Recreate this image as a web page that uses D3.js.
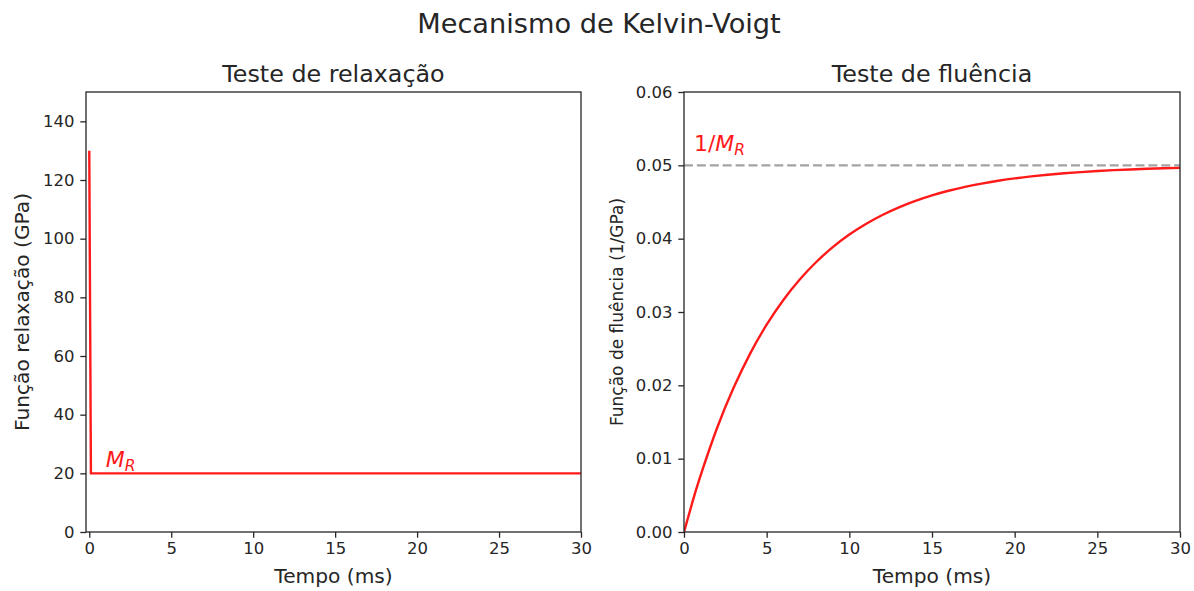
<!DOCTYPE html>
<html>
<head>
<meta charset="utf-8">
<script src="https://cdn.jsdelivr.net/npm/d3@7"></script>
<style>
  html, body { margin: 0; padding: 0; background: #ffffff; }
  svg { display: block; font-family: "DejaVu Sans", sans-serif; }
</style>
</head>
<body>
<svg id="chart" width="1194" height="591"></svg>
<script>
// Relaxation modulus of the Kelvin-Voigt model (GPa): a spike at t = 0, then M_R
const relaxTime = [0, 0.1, 30];
const relaxModulus = [130, 20, 20];

// Creep compliance (1/GPa) approaching 1/M_R
const creepTime = [0, 0.5, 1, 2, 3, 4, 5, 6, 7, 8, 9, 10, 11, 12, 13, 14, 15,
  16, 17, 18, 19, 20, 21, 22, 23, 24, 25, 26, 27, 28, 29, 30];
const creepCompliance = [0, 0.00400, 0.00768, 0.01418, 0.01967, 0.02433, 0.02827,
  0.03161, 0.03443, 0.03682, 0.03884, 0.04056, 0.04201, 0.04323, 0.04427,
  0.04515, 0.04590, 0.04653, 0.04706, 0.04751, 0.04789, 0.04822, 0.04849,
  0.04872, 0.04892, 0.04908, 0.04922, 0.04934, 0.04944, 0.04953, 0.04960, 0.04966];

const relaxedModulus = 20;          // M_R
const creepLimit = 0.05;            // 1/M_R

const timeTicks = [0, 5, 10, 15, 20, 25, 30];
const relaxTicks = [0, 20, 40, 60, 80, 100, 120, 140];
const creepTicks = [0, 0.01, 0.02, 0.03, 0.04, 0.05, 0.06];

const svg = d3.select("#chart");
const INK = "#262626";
const RED = "#ff1a1a";

svg.append("text")
  .attr("x", 599).attr("y", 33)
  .attr("text-anchor", "middle")
  .attr("font-size", 27.2).attr("fill", INK)
  .text("Mecanismo de Kelvin-Voigt");

function panel(opts) {
  const g = svg.append("g");
  const x = d3.scaleLinear().domain(opts.xDomain).range([opts.left, opts.right]);
  const y = d3.scaleLinear().domain(opts.yDomain).range([opts.bottom, opts.top]);

  // x axis
  const xa = g.append("g").attr("transform", `translate(0,${opts.bottom})`)
    .call(d3.axisBottom(x).tickValues(timeTicks).tickFormat(d3.format("d"))
      .tickSize(5.7).tickPadding(5));
  // y axis
  const ya = g.append("g").attr("transform", `translate(${opts.left},0)`)
    .call(d3.axisLeft(y).tickValues(opts.yTicks).tickFormat(opts.yFormat)
      .tickSize(5.7).tickPadding(5.7));
  [xa, ya].forEach(a => {
    a.select(".domain").remove();
    a.selectAll(".tick line").attr("stroke", INK).attr("stroke-width", 1.3);
    a.selectAll(".tick text").attr("fill", INK).attr("font-size", 16.5)
      .attr("font-family", "DejaVu Sans");
  });

  const clipId = "clip" + opts.id;
  g.append("clipPath").attr("id", clipId).append("rect")
    .attr("x", opts.left).attr("y", opts.top)
    .attr("width", opts.right - opts.left).attr("height", opts.bottom - opts.top);
  const plot = g.append("g").attr("clip-path", `url(#${clipId})`);
  opts.draw(plot, x, y);

  // frame
  g.append("rect")
    .attr("x", opts.left).attr("y", opts.top)
    .attr("width", opts.right - opts.left).attr("height", opts.bottom - opts.top)
    .attr("fill", "none").attr("stroke", INK).attr("stroke-width", 1.3);

  g.append("text")
    .attr("x", (opts.left + opts.right) / 2).attr("y", opts.top - 9.7)
    .attr("text-anchor", "middle").attr("font-size", 23.8).attr("fill", INK)
    .text(opts.title);
  g.append("text")
    .attr("x", (opts.left + opts.right) / 2).attr("y", 583)
    .attr("text-anchor", "middle").attr("font-size", 20.2).attr("fill", INK)
    .text("Tempo (ms)");
  g.append("text")
    .attr("transform", `translate(${opts.yLabelX},${(opts.top + opts.bottom) / 2}) rotate(-90)`)
    .attr("text-anchor", "middle").attr("font-size", opts.yLabelSize).attr("fill", INK)
    .text(opts.yLabel);

  opts.annotate(g, x, y);
}

// Left panel: relaxation test
panel({
  id: "relax", left: 86, right: 581, top: 92, bottom: 532,
  xDomain: [-0.2, 30], yDomain: [0, 150],
  yTicks: relaxTicks, yFormat: d3.format("d"),
  title: "Teste de relaxação",
  yLabel: "Função relaxação (GPa)", yLabelX: 29, yLabelSize: 20.2,
  draw: (plot, x, y) => {
    const pts = relaxTime.map((t, i) => [t, relaxModulus[i]]);
    plot.append("path").datum(pts)
      .attr("fill", "none").attr("stroke", RED).attr("stroke-width", 2.4)
      .attr("d", d3.line().x(d => x(d[0])).y(d => y(d[1])));
  },
  annotate: (g, x, y) => {
    const t = g.append("text")
      .attr("x", x(1)).attr("y", y(relaxedModulus + 2.2))
      .attr("fill", RED).attr("font-size", 22).attr("font-style", "italic");
    t.append("tspan").text("M");
    t.append("tspan").attr("font-size", 15.5).attr("dy", 4).text("R");
  }
});

// Right panel: creep test
panel({
  id: "creep", left: 684, right: 1180, top: 92, bottom: 532,
  xDomain: [0, 30], yDomain: [0, 0.06],
  yTicks: creepTicks, yFormat: d3.format(".2f"),
  title: "Teste de fluência",
  yLabel: "Função de fluência (1/GPa)", yLabelX: 623, yLabelSize: 17,
  draw: (plot, x, y) => {
    plot.append("line")
      .attr("x1", x(0)).attr("x2", x(30))
      .attr("y1", y(creepLimit)).attr("y2", y(creepLimit))
      .attr("stroke", "#a3a3a3").attr("stroke-width", 2.4)
      .attr("stroke-dasharray", "9,3.9");
    const pts = creepTime.map((t, i) => [t, creepCompliance[i]]);
    plot.append("path").datum(pts)
      .attr("fill", "none").attr("stroke", RED).attr("stroke-width", 2.4)
      .attr("d", d3.line().curve(d3.curveNatural).x(d => x(d[0])).y(d => y(d[1])));
  },
  annotate: (g, x, y) => {
    const t = g.append("text")
      .attr("x", x(0.6)).attr("y", y(0.0519))
      .attr("fill", RED).attr("font-size", 22);
    t.append("tspan").text("1/");
    t.append("tspan").attr("font-style", "italic").text("M");
    t.append("tspan").attr("font-style", "italic").attr("font-size", 15.5).attr("dy", 4).text("R");
  }
});
</script>
</body>
</html>
